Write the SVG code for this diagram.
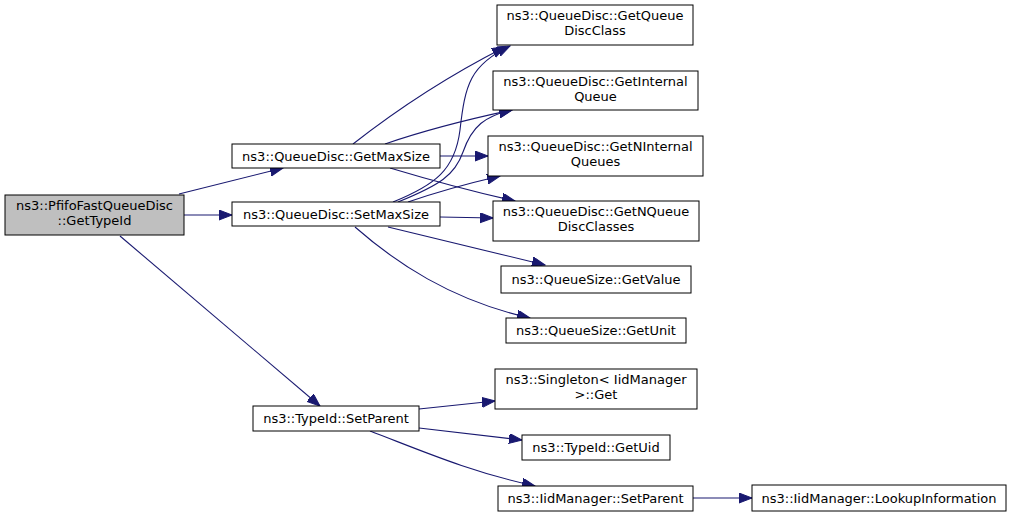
<svg xmlns="http://www.w3.org/2000/svg" width="1013" height="517" viewBox="0 0 1013 517">
<style>
.n rect{fill:#fff;stroke:#000;stroke-width:1}
.n.g rect{fill:#bfbfbf}
text{font-family:"DejaVu Sans","Liberation Sans",sans-serif;font-size:13px;text-anchor:middle;fill:#000}
.e path{fill:none;stroke:#191970;stroke-width:1.1;marker-end:url(#a)}
</style>
<defs>
<marker id="a" markerUnits="userSpaceOnUse" markerWidth="14" markerHeight="11" refX="13" refY="5" orient="auto">
<path d="M0,0 L13,5 L0,10 z" fill="#191970" stroke="#191970" stroke-width="1"/>
</marker>
</defs>
<rect width="1013" height="517" fill="#fff"/>
<g id="edges" class="e">
<path d="M179,194 L283,168"/>
<path d="M184,215 L232,215"/>
<path d="M120,236 L320,406"/>
<path d="M353,144 C390,115 440,80 505,47"/>
<path d="M385,144 C420,132 465,120 512,110"/>
<path d="M440,156 L488,156"/>
<path d="M390,168 C430,180 470,191 515,201"/>
<path d="M393,202 C435,185 455,170 460,130 C465,85 470,65 510,46"/>
<path d="M398,202 C440,185 455,175 463,152 C472,126 485,116 512,110"/>
<path d="M408,202 C440,191 470,183 500,176"/>
<path d="M440,217 L493,218"/>
<path d="M388,227 L545,265"/>
<path d="M355,227 C395,262 450,300 530,318"/>
<path d="M419,409 L495,401"/>
<path d="M419,428 L522,440"/>
<path d="M370,431 C420,450 470,472 535,486"/>
<path d="M693,498 L752,498"/>
</g>
<g id="n1" class="n g"><rect x="5" y="195" width="179" height="40"/><text x="94.5" y="209.5">ns3::PfifoFastQueueDisc</text><text x="94.5" y="225">::GetTypeId</text></g>
<g id="n2" class="n"><rect x="232" y="144" width="208" height="24"/><text x="336" y="160.5">ns3::QueueDisc::GetMaxSize</text></g>
<g id="n3" class="n"><rect x="232" y="202" width="208" height="24"/><text x="336" y="218.5">ns3::QueueDisc::SetMaxSize</text></g>
<g id="n4" class="n"><rect x="497" y="5" width="196" height="40"/><text x="595" y="19.5">ns3::QueueDisc::GetQueue</text><text x="595" y="35">DiscClass</text></g>
<g id="n5" class="n"><rect x="493" y="71" width="205" height="39"/><text x="595.5" y="85.5">ns3::QueueDisc::GetInternal</text><text x="595.5" y="101">Queue</text></g>
<g id="n6" class="n"><rect x="488" y="136" width="215" height="40"/><text x="595.5" y="150.5">ns3::QueueDisc::GetNInternal</text><text x="595.5" y="166">Queues</text></g>
<g id="n7" class="n"><rect x="493" y="201" width="206" height="40"/><text x="596" y="215.5">ns3::QueueDisc::GetNQueue</text><text x="596" y="231">DiscClasses</text></g>
<g id="n8" class="n"><rect x="501" y="266" width="190" height="27"/><text x="596" y="284">ns3::QueueSize::GetValue</text></g>
<g id="n9" class="n"><rect x="506" y="318" width="180" height="25"/><text x="596" y="335">ns3::QueueSize::GetUnit</text></g>
<g id="n10" class="n"><rect x="253" y="406" width="166" height="25"/><text x="336" y="423">ns3::TypeId::SetParent</text></g>
<g id="n11" class="n"><rect x="495" y="369" width="202" height="40"/><text x="596" y="383.5">ns3::Singleton&lt; IidManager</text><text x="596" y="399">&gt;::Get</text></g>
<g id="n12" class="n"><rect x="522" y="435" width="148" height="25"/><text x="596" y="452">ns3::TypeId::GetUid</text></g>
<g id="n13" class="n"><rect x="498" y="486" width="195" height="25"/><text x="595.5" y="503">ns3::IidManager::SetParent</text></g>
<g id="n14" class="n"><rect x="752" y="485" width="254" height="26"/><text x="879" y="502.5">ns3::IidManager::LookupInformation</text></g>
</svg>
